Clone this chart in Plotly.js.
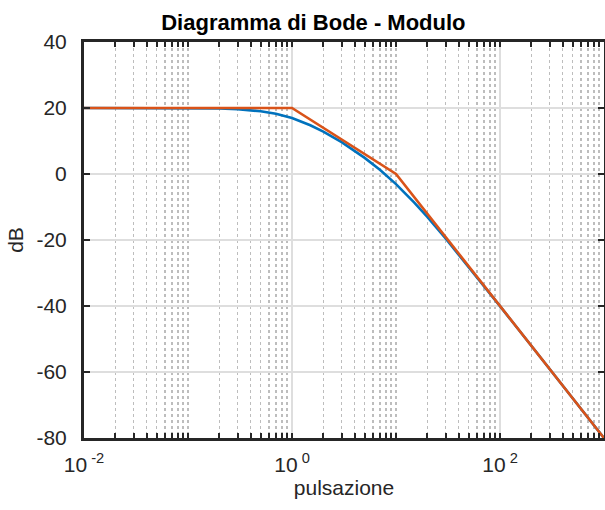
<!DOCTYPE html>
<html>
<head>
<meta charset="utf-8">
<script src="https://cdn.plot.ly/plotly-3.0.1.min.js"></script>
<style>html,body{margin:0;padding:0;background:#fff;}#chart{width:605px;height:510px;}</style>
</head>
<body>
<div id="chart"></div>
<script>
// Real magnitude (blue)
const wReal = [0.01, 0.1, 0.2, 0.3, 0.5, 0.7, 1, 1.5, 2, 3, 5, 7, 10, 15, 20, 30, 50, 70, 100, 200, 500, 1000];
const dBReal = [20, 19.96, 19.83, 19.62, 19.02, 18.25, 16.95, 14.78, 12.84, 9.63, 4.88, 1.27, -3.05, -8.67, -13.02, -19.55, -28.13, -33.9, -40.04, -52.05, -67.96, -80.0];
// Asymptotic magnitude (orange)
const wAsym = [0.01, 1, 10, 1000];
const dBAsym = [20, 20, 0, -80];
// Axis ticks
const xMajor = [0.01, 1, 100];
const xMajorText = ['10<sup> -2</sup>', '10<sup> 0</sup>', '10<sup> 2</sup>'];
const yTicks = [-80, -60, -40, -20, 0, 20, 40];
const yTickText = ['-80', '-60', '-40', '-20', '0', '20', '40'];

const minorVals = [];
for (let e = -2; e < 3; e++) {
  for (let m = 2; m <= 10; m++) {
    const v = m * Math.pow(10, e);
    const lv = Math.log10(v);
    if (!(Math.abs(lv) < 1e-9 || Math.abs(lv - 2) < 1e-9)) minorVals.push(v);
  }
}

const font = 'Liberation Sans, Arial, sans-serif';
const data = [
  {x: wReal, y: dBReal, mode: 'lines', line: {color: '#0072BD', width: 2.6}, hoverinfo: 'skip'},
  {x: wAsym, y: dBAsym, mode: 'lines', line: {color: '#D95319', width: 2.6}, hoverinfo: 'skip'}
];
const layout = {
  width: 605, height: 510,
  margin: {l: 84, r: 1, t: 42, b: 72},
  paper_bgcolor: '#fff', plot_bgcolor: '#fff',
  showlegend: false,
  font: {family: font, color: '#262626', size: 20},
  title: {text: '<b>Diagramma di Bode - Modulo</b>', font: {family: font, size: 22, color: '#000'}, x: 0.518, xanchor: 'center', y: 0.957, yanchor: 'middle'},
  xaxis: {
    type: 'log', range: [-2, 3],
    tickvals: xMajor, ticktext: xMajorText,
    ticks: 'inside', ticklen: 5, tickwidth: 2, tickcolor: '#262626',
    showline: true, linecolor: '#262626', linewidth: 3, mirror: 'ticks',
    showgrid: true, gridcolor: '#dedede', gridwidth: 2,
    zeroline: false,
    tickfont: {family: font, size: 21, color: '#262626'},
    ticklabelstandoff: 6,
    minor: {tickvals: minorVals, ticks: 'inside', ticklen: 5, tickwidth: 2, tickcolor: '#262626', showgrid: true, gridcolor: '#bdbdbd', griddash: 'dot', gridwidth: 1.5},
    title: {text: 'pulsazione', font: {family: font, size: 21, color: '#262626'}, standoff: 6}
  },
  yaxis: {
    range: [-80, 40], tickvals: yTicks, ticktext: yTickText,
    ticks: 'inside', ticklen: 6, tickwidth: 2, tickcolor: '#262626',
    showline: true, linecolor: '#262626', linewidth: 3, mirror: 'ticks',
    showgrid: true, gridcolor: '#dedede', gridwidth: 2,
    zeroline: false,
    tickfont: {family: font, size: 21, color: '#262626'},
    ticklabelstandoff: 10,
    title: {text: 'dB', font: {family: font, size: 21, color: '#262626'}, standoff: 8}
  }
};
Plotly.newPlot('chart', data, layout, {staticPlot: true, displayModeBar: false});
</script>
</body>
</html>
